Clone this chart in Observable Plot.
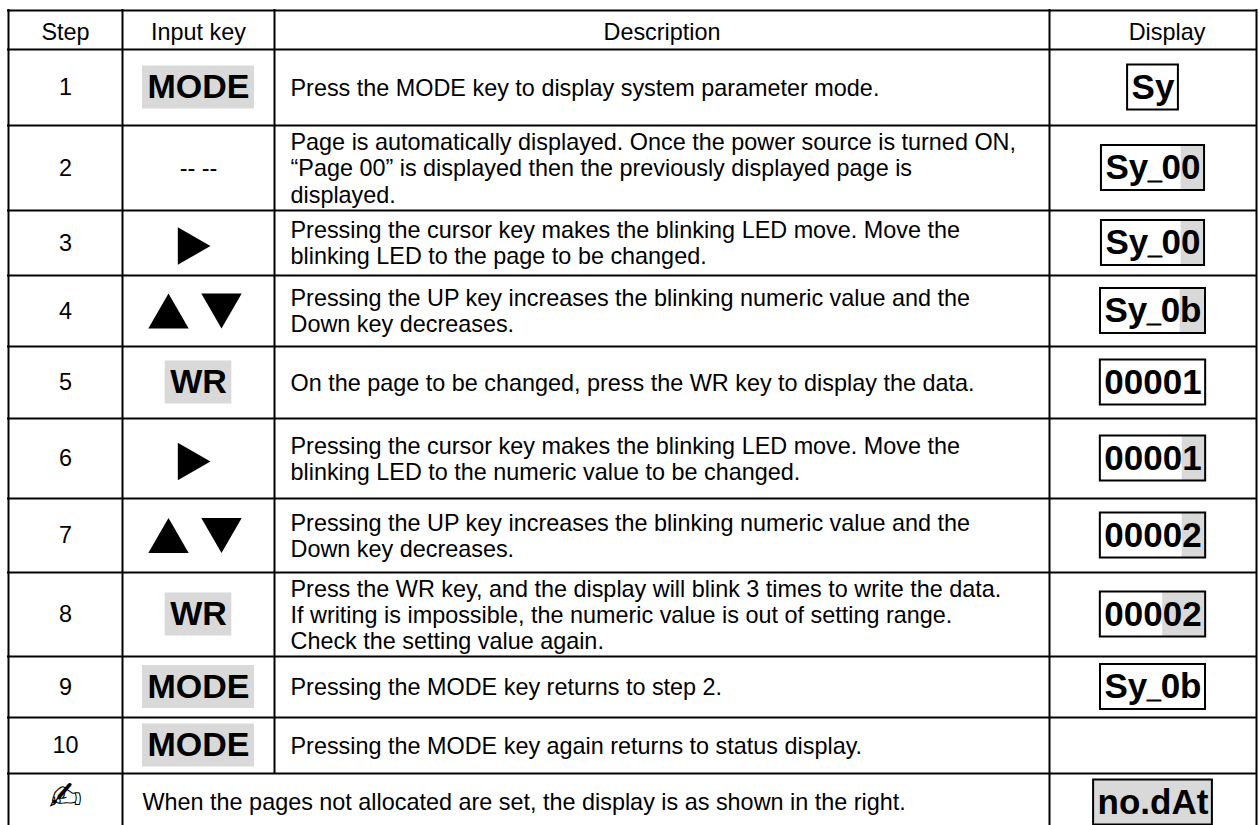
<!DOCTYPE html>
<html><head><meta charset="utf-8">
<script src="https://cdn.jsdelivr.net/npm/d3@7"></script>
<script src="https://cdn.jsdelivr.net/npm/@observablehq/plot@0.6"></script>
<style>html,body{margin:0;padding:0;background:#fff;overflow:hidden}svg{display:block}</style>
</head><body><div id="chart"></div>
<script>
// ---------- DATA ----------
const headers = ["Step", "Input key", "Description", "Display"];
const steps = ["1", "2", "3", "4", "5", "6", "7", "8", "9", "10"];
const inputKeys = ["MODE", "-- --", "right", "updown", "WR", "right", "updown", "WR", "MODE", "MODE"];
const descriptions = [
  ["Press the MODE key to display system parameter mode."],
  ["Page is automatically displayed. Once the power source is turned ON,", "\u201CPage 00\u201D is displayed then the previously displayed page is", "displayed."],
  ["Pressing the cursor key makes the blinking LED move. Move the", "blinking LED to the page to be changed."],
  ["Pressing the UP key increases the blinking numeric value and the", "Down key decreases."],
  ["On the page to be changed, press the WR key to display the data."],
  ["Pressing the cursor key makes the blinking LED move. Move the", "blinking LED to the numeric value to be changed."],
  ["Pressing the UP key increases the blinking numeric value and the", "Down key decreases."],
  ["Press the WR key, and the display will blink 3 times to write the data.", "If writing is impossible, the numeric value is out of setting range.", "Check the setting value again."],
  ["Pressing the MODE key returns to step 2."],
  ["Pressing the MODE key again returns to status display."]
];
const displays = ["Sy", "Sy_00", "Sy_00", "Sy_0b", "00001", "00001", "00002", "00002", "Sy_0b", ""];
const blinkChars = [0, 1, 1, 1, 0, 1, 1, 2, 0, 0];
const noteIcon = "\u270D";
const noteText = "When the pages not allocated are set, the display is as shown in the right.";
const noteDisplay = "no.dAt";
const noteBlink = 6;

// ---------- LAYOUT ----------
const W = 1259, H = 825;
const colEdges = [8, 122, 274, 1049, 1256];
const tableTop = 10;
const rowHeights = [39, 76, 85, 65, 71, 72, 80, 74, 84, 61, 56, 58];
const rowEdges = [tableTop];
rowHeights.forEach(h => rowEdges.push(rowEdges[rowEdges.length - 1] + h));
const rowMid = i => (rowEdges[i] + rowEdges[i + 1]) / 2;
const colMid = j => (colEdges[j] + colEdges[j + 1]) / 2;
const headerX = [colMid(0), colMid(1), colMid(2), colMid(3) + 14];
const FONT = "'Liberation Sans', Arial, sans-serif";
const textSize = 23.4, keySize = 34, dispSize = 35, underSize = 24;
const gray = "#d9d9d9";

const ctx = document.createElement("canvas").getContext("2d");
function measure(str, size, weight = "bold") {
  ctx.font = `${weight} ${size}px 'Liberation Sans'`;
  return ctx.measureText(str).width;
}

// grid lines
const hLines = rowEdges.map(y => ({y, x1: colEdges[0], x2: colEdges[4]}));
const lastBottom = rowEdges[rowEdges.length - 1];
const vLines = [
  {x: colEdges[0], y1: tableTop, y2: lastBottom},
  {x: colEdges[1], y1: tableTop, y2: lastBottom},
  {x: colEdges[2], y1: tableTop, y2: rowEdges[11]},
  {x: colEdges[3], y1: tableTop, y2: lastBottom},
  {x: colEdges[4], y1: tableTop, y2: lastBottom}
];

const headerCells = headers.map((t, j) => ({text: t, x: headerX[j], y: rowMid(0) + 2}));
const stepCells = steps.map((t, i) => ({text: t, x: colMid(0), y: rowMid(i + 1)}));
const descCells = descriptions.map((lines, i) => ({text: lines.join("\n"), x: colEdges[2] + 16, y: rowMid(i + 1)}));

// input keys
const keyBoxes = [], keyTexts = [], plainKeys = [], arrows = [];
const keyCx = colMid(1);
inputKeys.forEach((k, i) => {
  const y = rowMid(i + 1);
  if (k === "MODE" || k === "WR") {
    const w = measure(k, keySize) + 10;
    keyBoxes.push({x1: keyCx - w / 2, x2: keyCx + w / 2, y1: y - 21.5, y2: y + 21.5});
    keyTexts.push({text: k, x: keyCx, y});
  } else if (k === "right") {
    arrows.push({x: keyCx - 4, y: y + 3, kind: "right"});
  } else if (k === "updown") {
    arrows.push({x: keyCx - 30, y, kind: "up"});
    arrows.push({x: keyCx + 23, y, kind: "down"});
  } else {
    plainKeys.push({text: k, x: keyCx, y});
  }
});
const triR = 15;
const triY = Math.sqrt(Math.PI * triR * triR / (3 * Math.sqrt(3)));

// displays
const dispBoxes = [], dispHi = [], dispMain = [], dispUnder = [];
function addDisplay(str, blink, y) {
  if (!str) return;
  const cx = colMid(3);
  const segs = [];
  str.split(/(_)/).forEach(s => { if (s) segs.push({s, under: s === "_"}); });
  const widths = segs.map(g => measure(g.s, g.under ? underSize : dispSize));
  const total = d3.sum(widths);
  let x = cx - total / 2;
  const pad = 4;
  const left = x - pad, right = x + total + pad;
  let hiStart = null;
  if (blink > 0) {
    const last = segs[segs.length - 1].s;
    const pre = total - widths[widths.length - 1] + measure(last.slice(0, last.length - blink), dispSize);
    hiStart = blink >= str.length ? left : x + pre;
  }
  segs.forEach((g, k) => {
    (g.under ? dispUnder : dispMain).push({text: g.s, x, y});
    x += widths[k];
  });
  if (hiStart !== null) dispHi.push({x1: hiStart, x2: right, y1: y - 22.5, y2: y + 22.5});
  dispBoxes.push({x1: left, x2: right, y1: y - 22.5, y2: y + 22.5});
}
displays.forEach((d, i) => addDisplay(d, blinkChars[i], rowMid(i + 1)));
addDisplay(noteDisplay, noteBlink, rowMid(11));

const noteIconCell = [{text: noteIcon, x: colMid(0), y: rowMid(11) - 5}];
const noteTextCell = [{text: noteText, x: colEdges[1] + 20, y: rowMid(11)}];

const chart = Plot.plot({
  width: W, height: H,
  margin: 0,
  x: {type: "linear", domain: [0, W], range: [0, W], axis: null},
  y: {type: "linear", domain: [0, H], range: [0, H], axis: null},
  style: {fontFamily: FONT, background: "#fff", overflow: "hidden"},
  marks: [
    Plot.rect(keyBoxes, {x1: "x1", x2: "x2", y1: "y1", y2: "y2", fill: gray}),
    Plot.rect(dispHi, {x1: "x1", x2: "x2", y1: "y1", y2: "y2", fill: gray}),
    Plot.rect(dispBoxes, {x1: "x1", x2: "x2", y1: "y1", y2: "y2", fill: "none", stroke: "#000", strokeWidth: 2}),
    Plot.ruleY(hLines, {y: "y", x1: "x1", x2: "x2", stroke: "#000", strokeWidth: 2, strokeLinecap: "square"}),
    Plot.ruleX(vLines, {x: "x", y1: "y1", y2: "y2", stroke: "#000", strokeWidth: 2, strokeLinecap: "square"}),
    Plot.text(headerCells, {x: "x", y: "y", text: "text", fontSize: textSize, fill: "#000"}),
    Plot.text(stepCells, {x: "x", y: "y", text: "text", fontSize: textSize, fill: "#000"}),
    Plot.text(descCells, {x: "x", y: "y", text: "text", fontSize: textSize, textAnchor: "start", lineAnchor: "middle", lineHeight: 1.12, fill: "#000"}),
    Plot.text(plainKeys, {x: "x", y: "y", text: "text", fontSize: textSize, fill: "#000"}),
    Plot.text(keyTexts, {x: "x", y: "y", text: "text", fontSize: keySize, fontWeight: "bold", fill: "#000"}),
    Plot.dot(arrows.filter(a => a.kind === "up"), {x: "x", y: "y", symbol: "triangle", r: triR, rotate: 0, dy: triY / 2, fill: "#000", stroke: "none"}),
    Plot.dot(arrows.filter(a => a.kind === "down"), {x: "x", y: "y", symbol: "triangle", r: triR, rotate: 180, dy: -triY / 2, fill: "#000", stroke: "none"}),
    Plot.dot(arrows.filter(a => a.kind === "right"), {x: "x", y: "y", symbol: "triangle", r: 14, rotate: 90, dx: -triY / 2, fill: "#000", stroke: "none"}),
    Plot.text(dispMain, {x: "x", y: "y", text: "text", fontSize: dispSize, fontWeight: "bold", textAnchor: "start", fill: "#000"}),
    Plot.text(dispUnder, {x: "x", y: "y", text: "text", fontSize: underSize, fontWeight: "bold", textAnchor: "start", dy: 0.32 * (dispSize - underSize), fill: "#000", stroke: "#000", strokeWidth: 1.2}),
    Plot.text(noteIconCell, {x: "x", y: "y", text: "text", fontSize: 40, fontFamily: "'DejaVu Sans'", fill: "#000"}),
    Plot.text(noteTextCell, {x: "x", y: "y", text: "text", fontSize: textSize, textAnchor: "start", fill: "#000"})
  ]
});
document.getElementById("chart").append(chart);
</script>
</body></html>
